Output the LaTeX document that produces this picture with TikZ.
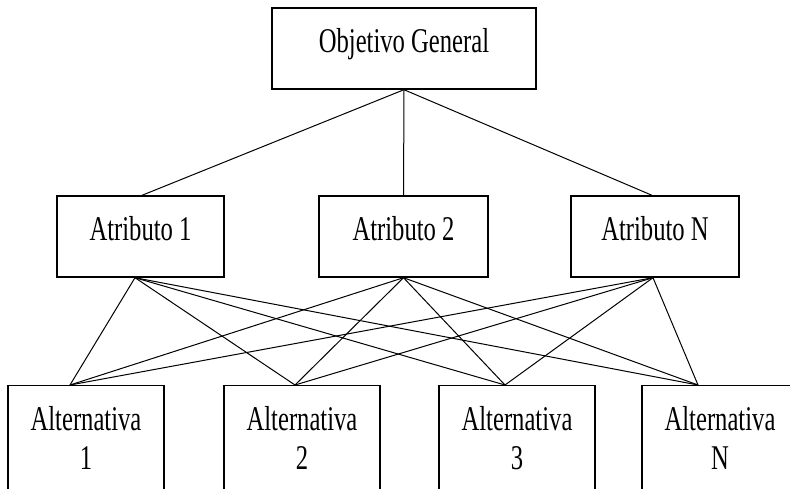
\documentclass[tikz,border=0pt]{standalone}
\usepackage{fontspec}
\setmainfont[FakeStretch=0.71]{Liberation Serif}
\begin{document}
\begin{tikzpicture}[x=1pt,y=1pt,
  box/.style={draw, line width=1.4pt, minimum width=#1, minimum height=81pt, inner sep=0pt},
  lbl/.style={font=\fontsize{34.7}{39}\selectfont, inner sep=0pt, align=center},
  conn/.style={line width=1pt}]
\useasboundingbox (0,0) rectangle (790,-488);
% boxes
\node[box=264pt] (top) at (404,-48.5) {};
\node[box=167pt] (a1) at (140.5,-236.5) {};
\node[box=169pt] (a2) at (403.5,-236.5) {};
\node[box=168pt] (an) at (655,-236.5) {};
\node[box=156pt, minimum height=120pt, anchor=north] (b1) at (86,-385) {};
\node[box=156pt, minimum height=120pt, anchor=north] (b2) at (302,-385) {};
\node[box=156pt, minimum height=120pt, anchor=north] (b3) at (517,-385) {};
\node[box=156pt, minimum height=120pt, anchor=north] (b4) at (720,-385) {};
% labels
\node[lbl, anchor=base] (ttop) at (404,-52) {Objetivo General};
\node[lbl, anchor=base] (ta1) at (140.5,-240) {Atributo 1};
\node[lbl, anchor=base] (ta2) at (403.5,-240) {Atributo 2};
\node[lbl, anchor=base] (tan) at (655,-240) {Atributo N};
\node[lbl, anchor=north] (tb1) at (86,-406.3) {Alternativa\\1};
\node[lbl, anchor=north] (tb2) at (302,-406.3) {Alternativa\\2};
\node[lbl, anchor=north] (tb3) at (517,-406.3) {Alternativa\\3};
\node[lbl, anchor=north] (tb4) at (720,-406.3) {Alternativa\\N};
% connection points
\coordinate (u1) at ([xshift=1.5pt]a1.north);
\coordinate (u3) at ([xshift=-3pt]an.north);
\coordinate (q1) at ([xshift=-5.5pt]a1.south);
\coordinate (q2) at (a2.south);
\coordinate (q3) at ([xshift=-2pt]an.south);
\coordinate (p1) at ([xshift=-16pt]b1.north);
\coordinate (p2) at ([xshift=-7pt]b2.north);
\coordinate (p3) at ([xshift=-12pt]b3.north);
\coordinate (p4) at ([xshift=-22pt]b4.north);
% connectors
\draw[conn] (top.south) -- (u1);
\draw[conn] (top.south) -- (a2.north);
\draw[conn] (top.south) -- (u3);
\foreach \q in {q1,q2,q3}{
  \foreach \p in {p1,p2,p3,p4}{
    \draw[conn] (\q) -- (\p);
  }
}
\end{tikzpicture}
\end{document}
